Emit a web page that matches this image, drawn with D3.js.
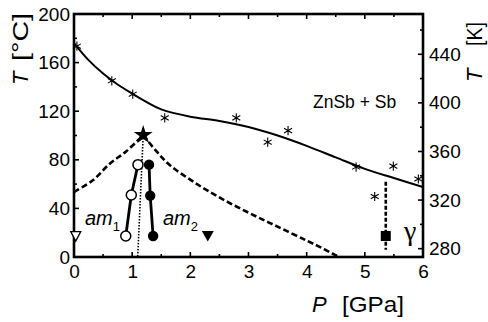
<!DOCTYPE html>
<html><head><meta charset="utf-8">
<script src="https://cdn.jsdelivr.net/npm/d3@7"></script>
<style>body{margin:0;background:#fff}svg{display:block}text{font-family:"Liberation Sans",Arial,sans-serif;fill:#000}</style>
</head><body><svg id="c" width="488" height="322"></svg>
<script>
// ---- data ----
const xTicks = [0,1,2,3,4,5,6];
const yTicksC = [0,40,80,120,160,200];
const yTicksK = [280,320,360,400,440];
// solid curve
const curveP = [0,0.25,0.5,0.75,1.0,1.25,1.5,2.0,2.5,3.0,3.5,4.0,4.5,5.0,5.5,6.0];
const curveT = [176,162,151,142,134.5,127.5,121.5,115.5,112,107,100,91.5,82,72.5,65,57.6];
// asterisk data points
const astP = [0.05,0.65,1.01,1.56,2.79,3.33,3.68,4.85,5.49,5.92,5.17];
const astT = [173.5,145,134,114.5,114.5,94.5,104,74,74.8,64.2,49.8];
// dashed boundaries
const dashLP = [0,0.33,0.62,0.9,1.19];
const dashLT = [53.5,63.4,77,87,100.4];
const dashRP = [1.19,1.4,1.65,2.05,2.5,3.0,3.5,4.0,4.3,4.55];
const dashRT = [100.4,88,75.5,62,49,36.5,25,13.5,6.5,0];
// dotted line
const dotP = [1.19,1.095];
const dotT = [100.4,0];
// am1 (open circles), am2 (filled circles)
const am1P = [0.89,0.985,1.1];
const am1T = [17.3,51,76];
const am2P = [1.29,1.31,1.36];
const am2T = [76,50.5,17.3];
// star (triple point)
const starP = [1.19], starT = [100.4];
// triangles and square
const openTriP = [0.03], openTriT = [17];
const fillTriP = [2.3], fillTriT = [17];
const sqP = [5.36], sqT = [17.3];
const gammaBarP = [5.36], gammaBarT = [62, 6];

// ---- layout ----
const svg = d3.select("#c");
const L=74,R=423,T=14,B=257;
const x = d3.scaleLinear().domain([0,6]).range([L,R]);
const y = d3.scaleLinear().domain([0,200]).range([B,T]);
const yK = d3.scaleLinear().domain([273.15,473.15]).range([B,T]);

const g = svg.append("g");
const zip = (a,b)=>a.map((v,i)=>[v,b[i]]);

// inward ticks
g.append("g").selectAll("line").data(d3.range(0,6.01,0.5)).join("line")
  .attr("x1",d=>x(d)).attr("x2",d=>x(d)).attr("y1",B).attr("y2",d=>B-(Number.isInteger(d)?5:3))
  .attr("stroke","#000").attr("stroke-width",1.6);
g.append("g").selectAll("line").data(d3.range(0,6.01,0.5)).join("line")
  .attr("x1",d=>x(d)).attr("x2",d=>x(d)).attr("y1",T).attr("y2",d=>T+(Number.isInteger(d)?5:3))
  .attr("stroke","#000").attr("stroke-width",1.6);
g.append("g").selectAll("line").data(d3.range(0,201,20)).join("line")
  .attr("y1",d=>y(d)).attr("y2",d=>y(d)).attr("x1",L).attr("x2",d=>L+(d%40===0?5:3))
  .attr("stroke","#000").attr("stroke-width",1.6);
g.append("g").selectAll("line").data(d3.range(280,461,20)).join("line")
  .attr("y1",d=>yK(d)).attr("y2",d=>yK(d)).attr("x1",R).attr("x2",d=>R-(d%40===0?5:3))
  .attr("stroke","#000").attr("stroke-width",1.6);

const fmt = d3.format("d");
const bx = g.append("g").attr("transform",`translate(0,${B})`)
  .call(d3.axisBottom(x).tickValues(xTicks).tickFormat(fmt).tickSize(0).tickPadding(8));
bx.select(".domain").remove();
bx.selectAll("text").attr("font-size",19).attr("font-family","Liberation Sans, Arial, sans-serif");
const ly = g.append("g").attr("transform",`translate(${L},0)`)
  .call(d3.axisLeft(y).tickValues(yTicksC).tickFormat(fmt).tickSize(0).tickPadding(4));
ly.select(".domain").remove();
ly.selectAll("text").attr("font-size",19).attr("font-family","Liberation Sans, Arial, sans-serif");
const ry = g.append("g").attr("transform",`translate(${R},0)`)
  .call(d3.axisRight(yK).tickValues(yTicksK).tickFormat(fmt).tickSize(0).tickPadding(6));
ry.select(".domain").remove();
ry.selectAll("text").attr("font-size",19).attr("font-family","Liberation Sans, Arial, sans-serif");

// frame
g.append("rect").attr("x",L).attr("y",T).attr("width",R-L).attr("height",B-T)
  .attr("fill","none").attr("stroke","#000").attr("stroke-width",2.6);

svg.append("clipPath").attr("id","clp").append("rect").attr("x",L).attr("y",T).attr("width",R-L).attr("height",B-T);
const pg = svg.append("g").attr("clip-path","url(#clp)");

const cline = d3.line().x(d=>x(d[0])).y(d=>y(d[1])).curve(d3.curveCatmullRom);
const sl = d3.line().x(d=>x(d[0])).y(d=>y(d[1]));

pg.append("path").datum(zip(curveP,curveT)).attr("d",cline)
  .attr("fill","none").attr("stroke","#000").attr("stroke-width",2);
pg.append("path").datum(zip(dashLP,dashLT)).attr("d",cline).attr("fill","none")
  .attr("stroke","#000").attr("stroke-width",2.6).attr("stroke-dasharray","6,3");
pg.append("path").datum(zip(dashRP,dashRT)).attr("d",cline).attr("fill","none")
  .attr("stroke","#000").attr("stroke-width",2.6).attr("stroke-dasharray","6,3");
pg.append("path").datum(zip(dotP,dotT)).attr("d",sl)
  .attr("fill","none").attr("stroke","#000").attr("stroke-width",1.6).attr("stroke-dasharray","1.5,1.5");
pg.append("path").datum(zip([gammaBarP[0],gammaBarP[0]],gammaBarT)).attr("d",sl)
  .attr("fill","none").attr("stroke","#000").attr("stroke-width",2.6).attr("stroke-dasharray","4,2");

svg.append("path").datum(zip(am1P,am1T)).attr("d",sl).attr("fill","none").attr("stroke","#000").attr("stroke-width",2.8);
svg.append("path").datum(zip(am2P,am2T)).attr("d",sl).attr("fill","none").attr("stroke","#000").attr("stroke-width",2.8);
svg.append("g").selectAll("circle").data(zip(am1P,am1T)).join("circle")
  .attr("cx",d=>x(d[0])).attr("cy",d=>y(d[1])).attr("r",5).attr("fill","#fff").attr("stroke","#000").attr("stroke-width",1.5);
svg.append("g").selectAll("circle").data(zip(am2P,am2T)).join("circle")
  .attr("cx",d=>x(d[0])).attr("cy",d=>y(d[1])).attr("r",5.2).attr("fill","#000");

const astPath = (r)=>{let s="";for(const a of [90,30,150]){const t=a*Math.PI/180;s+=`M${-r*Math.cos(t)},${-r*Math.sin(t)}L${r*Math.cos(t)},${r*Math.sin(t)}`;}return s;};
svg.append("g").selectAll("path").data(zip(astP,astT)).join("path")
  .attr("transform",d=>`translate(${x(d[0])},${y(d[1])})`).attr("d",astPath(4.6))
  .attr("stroke","#000").attr("stroke-width",1.1).attr("fill","none");

svg.append("g").selectAll("path").data(zip(starP,starT)).join("path")
  .attr("transform",d=>`translate(${x(d[0])},${y(d[1])})`)
  .attr("d",d3.symbol().type(d3.symbolStar).size(110)()).attr("fill","#000");
const triDown = (w,h)=>`M${-w/2},${-h/2}L${w/2},${-h/2}L0,${h/2}Z`;
svg.append("g").selectAll("path").data(zip(openTriP,openTriT)).join("path")
  .attr("transform",d=>`translate(${x(d[0])},${y(d[1])})`).attr("d",triDown(10,9.5))
  .attr("fill","#fff").attr("stroke","#000").attr("stroke-width",1.3);
svg.append("g").selectAll("path").data(zip(fillTriP,fillTriT)).join("path")
  .attr("transform",d=>`translate(${x(d[0])},${y(d[1])})`).attr("d",triDown(12,10.5))
  .attr("fill","#000");
svg.append("g").selectAll("rect").data(zip(sqP,sqT)).join("rect")
  .attr("x",d=>x(d[0])-5).attr("y",d=>y(d[1])-5).attr("width",10).attr("height",10).attr("fill","#000");

// labels
const t1 = svg.append("text").attr("x",85).attr("y",225).attr("font-size",20).attr("font-style","italic");
t1.append("tspan").text("am");
t1.append("tspan").attr("font-size",13).attr("font-style","normal").attr("dy",6).text("1");
const t2 = svg.append("text").attr("x",163).attr("y",225).attr("font-size",20).attr("font-style","italic");
t2.append("tspan").text("am");
t2.append("tspan").attr("font-size",13).attr("font-style","normal").attr("dy",6).text("2");
svg.append("text").attr("x",313).attr("y",108).attr("font-size",17.5).text("ZnSb + Sb");
svg.append("text").attr("x",404).attr("y",240).attr("font-size",28)
  .style("font-family","Liberation Serif, serif").text("γ");

// axis titles
svg.append("text").attr("x",312).attr("y",312).attr("font-size",22).attr("font-style","italic").text("P");
svg.append("text").attr("x",342).attr("y",312).attr("font-size",22)
  .attr("textLength",62).attr("lengthAdjust","spacingAndGlyphs").text("[GPa]");
const ylg = svg.append("g").attr("transform","translate(28,0) rotate(-90)");
ylg.append("text").attr("x",-85).attr("y",0).attr("font-size",22).attr("font-style","italic").text("T");
ylg.append("text").attr("x",-61).attr("y",0).attr("font-size",22)
  .attr("textLength",48).attr("lengthAdjust","spacingAndGlyphs").text("[°C]");
const yrg = svg.append("g").attr("transform","translate(482,0) rotate(-90)");
yrg.append("text").attr("x",-82).attr("y",0).attr("font-size",22).attr("font-style","italic").text("T");
yrg.append("text").attr("x",-46).attr("y",0).attr("font-size",22)
  .attr("textLength",24).attr("lengthAdjust","spacingAndGlyphs").text("[K]");
</script></body></html>
